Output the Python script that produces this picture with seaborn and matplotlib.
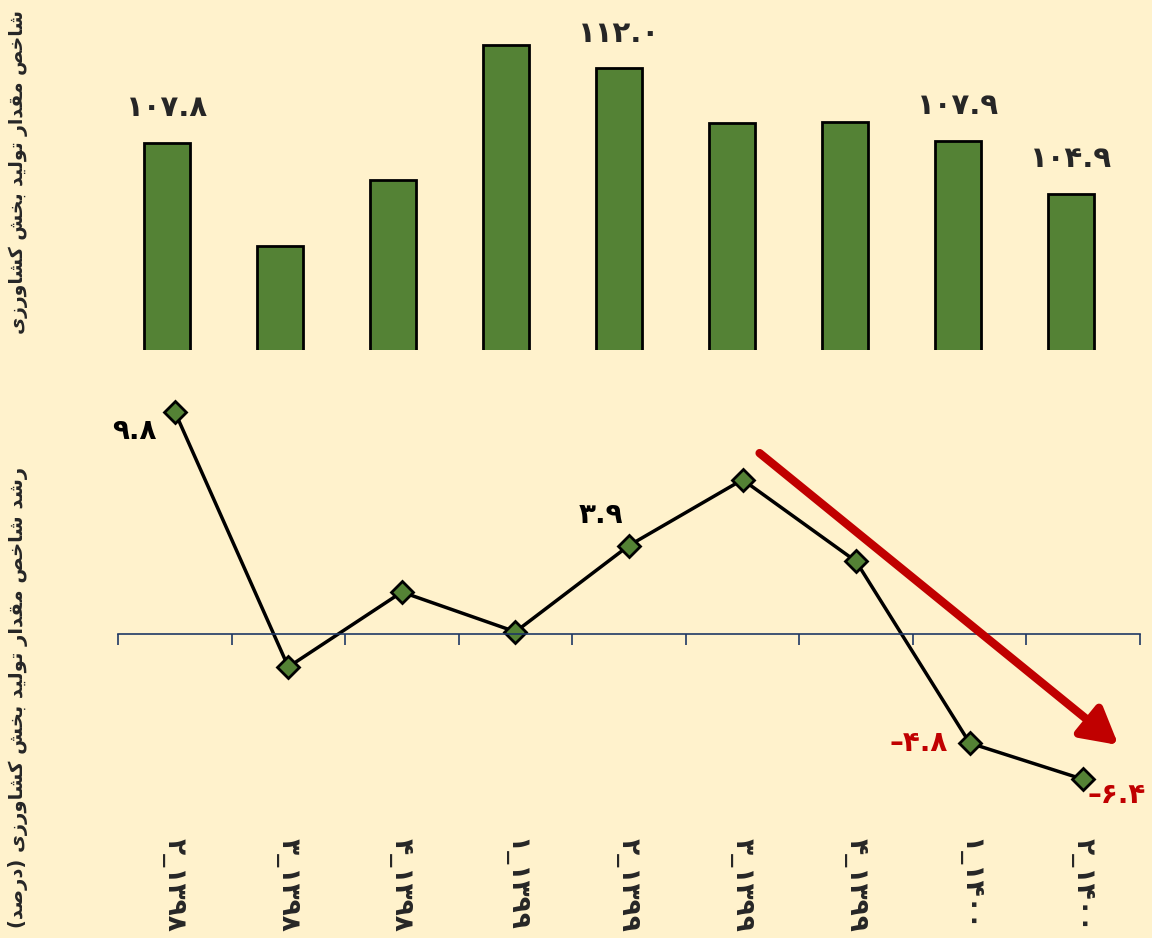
import numpy as np
import pandas as pd
import matplotlib
matplotlib.use('Agg')
import matplotlib.pyplot as plt
import seaborn as sns

# Data
quarters = ['۱۳۹۸_۲', '۱۳۹۸_۳', '۱۳۹۸_۴', '۱۳۹۹_۱', '۱۳۹۹_۲',
            '۱۳۹۹_۳', '۱۳۹۹_۴', '۱۴۰۰_۱', '۱۴۰۰_۲']
index_values = [107.8, 102.0, 105.7, 113.3, 112.0, 108.9, 109.0, 107.9, 104.9]
growth_values = [9.8, -1.45, 1.85, 0.1, 3.9, 6.8, 3.2, -4.8, -6.4]
bar_labels = {0: '۱۰۷.۸', 4: '۱۱۲.۰', 7: '۱۰۷.۹', 8: '۱۰۴.۹'}
growth_labels = {0: '۹.۸', 4: '۳.۹', 7: '–۴.۸', 8: '–۶.۴'}
top_ylabel = 'شاخص مقدار تولید بخش کشاورزی'
bottom_ylabel = 'رشد شاخص مقدار تولید بخش کشاورزی (درصد)'

# matplotlib has no arabic shaping, so pick presentation forms by hand
FORMS = {
    'ا': ('\uFE8D', '\uFE8E', None, None),
    'ب': ('\uFE8F', '\uFE90', '\uFE91', '\uFE92'),
    'ت': ('\uFE95', '\uFE96', '\uFE97', '\uFE98'),
    'خ': ('\uFEA5', '\uFEA6', '\uFEA7', '\uFEA8'),
    'د': ('\uFEA9', '\uFEAA', None, None),
    'ر': ('\uFEAD', '\uFEAE', None, None),
    'ز': ('\uFEAF', '\uFEB0', None, None),
    'ش': ('\uFEB5', '\uFEB6', '\uFEB7', '\uFEB8'),
    'ص': ('\uFEB9', '\uFEBA', '\uFEBB', '\uFEBC'),
    'ق': ('\uFED5', '\uFED6', '\uFED7', '\uFED8'),
    'ک': ('\uFB8E', '\uFB8F', '\uFB90', '\uFB91'),
    'ل': ('\uFEDD', '\uFEDE', '\uFEDF', '\uFEE0'),
    'م': ('\uFEE1', '\uFEE2', '\uFEE3', '\uFEE4'),
    'و': ('\uFEED', '\uFEEE', None, None),
    'ی': ('\uFBFC', '\uFBFD', '\uFBFE', '\uFBFF'),
}


def shape(text):
    out = []
    for i, ch in enumerate(text):
        if ch not in FORMS:
            out.append(ch)
            continue
        prev = text[i - 1] if i > 0 else ''
        nxt = text[i + 1] if i + 1 < len(text) else ''
        iso, fin, ini, med = FORMS[ch]
        jp = prev in FORMS and FORMS[prev][2] is not None
        jn = nxt in FORMS and ini is not None
        if jp and jn:
            out.append(med)
        elif jp:
            out.append(fin)
        elif jn:
            out.append(ini)
        else:
            out.append(iso)
    vis = ''.join(reversed(out))
    return vis.translate(str.maketrans('()', ')('))


def visual_quarter(q):
    year, part = q.split('_')
    return part + '_' + year


bg = '#FFF2CC'
green = '#548235'
sns.set_theme(style='white')
plt.rcParams['font.family'] = ['DejaVu Sans']

df = pd.DataFrame({'quarter': quarters, 'index': index_values,
                   'growth': growth_values, 'pos': np.arange(len(quarters))})

fig = plt.figure(figsize=(11.52, 9.38), dpi=100, facecolor=bg)
W, H = 1152, 938
ax1 = fig.add_axes([110.5 / W, 1 - 350 / H, 1017 / W, 340 / H])
ax2 = fig.add_axes([118 / W, 1 - 800 / H, 1022 / W, 420 / H])
for ax in (ax1, ax2):
    ax.set_facecolor(bg)
    for s in ax.spines.values():
        s.set_visible(False)

# top: index bars
sns.barplot(data=df, x='quarter', y='index', color=green, width=0.41,
            edgecolor='black', linewidth=2, saturation=1, ax=ax1)
ax1.set_ylim(96.1, 115.3)
ax1.set_xlim(-0.5, 8.5)
ax1.set_xticks([])
ax1.set_yticks([])
ax1.set_xlabel('')
ax1.set_ylabel('')
for i, lab in bar_labels.items():
    ax1.annotate(lab, (i, index_values[i]), xytext=(0, 15), textcoords='offset points',
                 ha='center', va='bottom', fontsize=21, fontweight='bold')

# bottom: growth line
sns.lineplot(data=df, x='pos', y='growth', color='black', linewidth=2.5,
             marker='D', markersize=11, markerfacecolor=green,
             markeredgecolor='black', markeredgewidth=2, ax=ax2)
ax2.set_xlim(-0.5, 8.5)
ax2.set_ylim(-7.31, 11.19)
ax2.set_yticks([])
ax2.spines['bottom'].set_visible(True)
ax2.spines['bottom'].set_position(('data', 0))
ax2.spines['bottom'].set_color('#1F3864')
ax2.spines['bottom'].set_linewidth(1.2)
ax2.set_xticks(df['pos'])
ax2.set_xticklabels([visual_quarter(q) for q in quarters], rotation=-90,
                    fontsize=19, fontweight='bold')
ax2.set_xticks(np.arange(-0.5, 9, 1), minor=True)
ax2.tick_params(axis='x', which='major', length=0, pad=147)
ax2.tick_params(axis='x', which='minor', length=8, width=1.2, color='#1F3864',
                direction='out', bottom=True)
ax2.set_xlabel('')
ax2.set_ylabel('')

offsets = {0: (-13, -14, 'right', 'center', 'black'),
           4: (-20, 12, 'center', 'bottom', 'black'),
           7: (-16, 0, 'right', 'center', '#C00000'),
           8: (3, -11, 'left', 'center', '#C00000')}
for i, lab in growth_labels.items():
    dx, dy, ha, va, c = offsets[i]
    ax2.annotate(lab, (i, growth_values[i]), xytext=(dx, dy), textcoords='offset points',
                 ha=ha, va=va, fontsize=20, fontweight='bold', color=c)

# trend arrow
ax2.annotate('', xy=(8.31, -4.89), xytext=(5.15, 7.97),
             arrowprops=dict(arrowstyle='-|>,head_length=1.8,head_width=1.0',
                             color='#C00000', linewidth=6, shrinkA=0, shrinkB=0))

fig.text(18 / W, 1 - 172 / H, shape(top_ylabel), rotation=90, ha='center', va='center',
         fontsize=13.5, fontweight='bold')
fig.text(18 / W, 1 - 697 / H, shape(bottom_ylabel), rotation=90, ha='center', va='center',
         fontsize=14, fontweight='bold')

fig.savefig('out.png', dpi=100, facecolor=bg)
